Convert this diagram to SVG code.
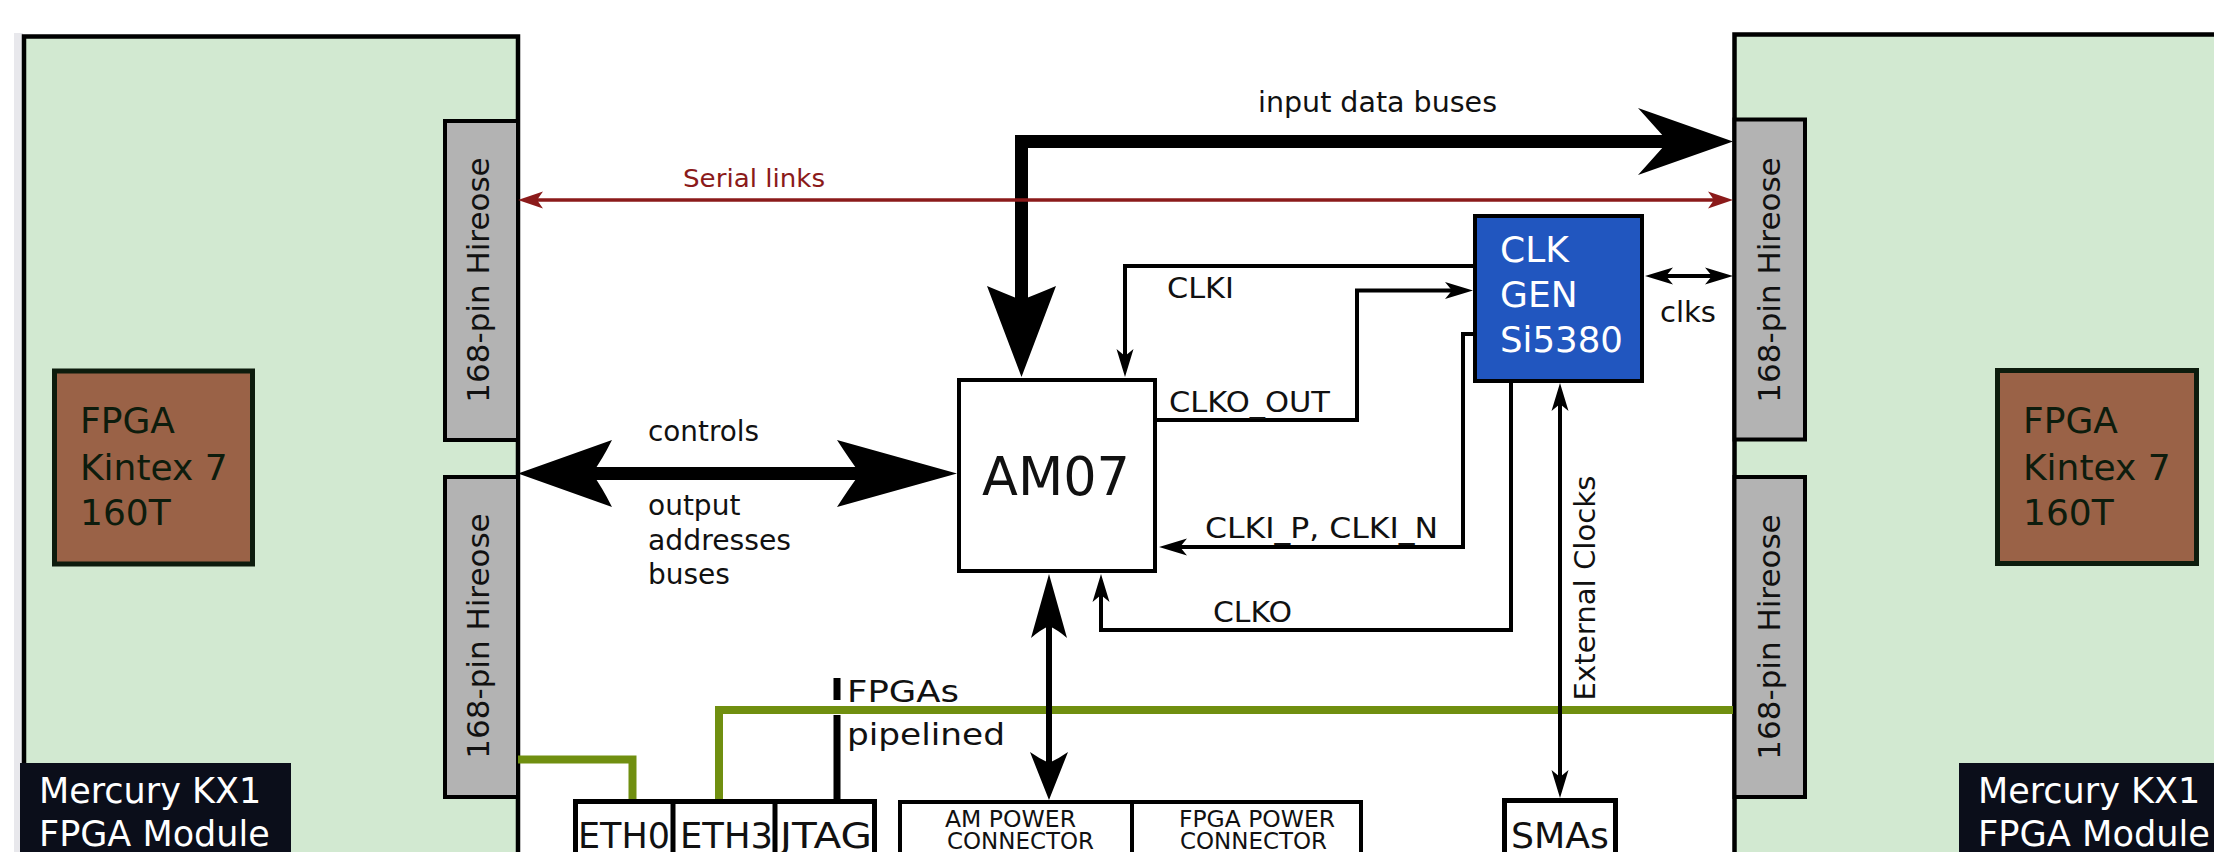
<svg xmlns="http://www.w3.org/2000/svg" width="2214" height="852" viewBox="0 0 2214 852">
<style>
  text { font-family: "DejaVu Sans", "Liberation Sans", sans-serif; fill: #111; }
  .module { fill: #d2e9d1; stroke: #000; stroke-width: 4.5; }
  .conn { fill: #b3b3b3; stroke: #000; stroke-width: 4; }
  .fpga { fill: #9a6247; stroke: #0d1c0d; stroke-width: 5; }
  .fpgat { font-size: 36px; fill: #0d1c0d; }
  .merc { fill: #0b0e1a; }
  .merct { font-size: 35px; fill: #fff; }
  .hir { font-size: 31px; fill: #111; }
  .box { fill: #fff; stroke: #000; stroke-width: 4; }
  .box5 { fill: #fff; stroke: #000; stroke-width: 5; }
  .lbl { font-size: 28px; }
  .pw { font-size: 23px; }
  .big { font-size: 36px; }
  .thin { fill: none; stroke: #000; stroke-width: 4; }
  .green { fill: none; stroke: #708f10; stroke-width: 8; }
  .head { fill: #000; }
</style>
<defs>
  <marker id="arr" markerUnits="userSpaceOnUse" markerWidth="28" markerHeight="18" viewBox="0 0 28 18" refX="18" refY="9" orient="auto-start-reverse">
    <path d="M0,0.5 L28,9 L0,17.5 L7,9 Z" fill="#000"/>
  </marker>
  <marker id="arrR" markerUnits="userSpaceOnUse" markerWidth="25" markerHeight="18" viewBox="0 0 25 18" refX="15" refY="9" orient="auto-start-reverse">
    <path d="M0,0.5 L25,9 L0,17.5 L6,9 Z" fill="#8b1a1a"/>
  </marker>
</defs>

<rect x="14" y="33" width="9" height="830" fill="#e8e8ec"/>

<g id="module-left">
  <rect class="module" x="24" y="36.5" width="494" height="900"/>
  <rect class="fpga" x="54.5" y="371" width="198" height="193"/>
  <text class="fpgat" x="80" y="433">FPGA</text>
  <text class="fpgat" x="80" y="480">Kintex 7</text>
  <text class="fpgat" x="80" y="525">160T</text>
  <rect class="merc" x="20" y="763" width="271" height="100"/>
  <text class="merct" x="39" y="803">Mercury KX1</text>
  <text class="merct" x="39" y="846">FPGA Module</text>
</g>
<g id="hirose-l1">
  <rect class="conn" x="445" y="121" width="73" height="319"/>
  <text class="hir" text-anchor="middle" transform="translate(489,280) rotate(-90)">168-pin Hireose</text>
</g>
<g id="hirose-l2">
  <rect class="conn" x="445" y="477" width="73" height="320"/>
  <text class="hir" text-anchor="middle" transform="translate(489,636) rotate(-90)">168-pin Hireose</text>
</g>

<g id="module-right">
  <rect class="module" x="1734.5" y="34.5" width="600" height="900"/>
  <rect class="fpga" x="1997.5" y="370.5" width="199" height="193"/>
  <text class="fpgat" x="2023" y="433">FPGA</text>
  <text class="fpgat" x="2023" y="480">Kintex 7</text>
  <text class="fpgat" x="2023" y="525">160T</text>
  <rect class="merc" x="1959" y="763" width="300" height="100"/>
  <text class="merct" x="1978" y="803">Mercury KX1</text>
  <text class="merct" x="1978" y="846" textLength="232" lengthAdjust="spacingAndGlyphs">FPGA Module</text>
</g>
<g id="hirose-r1">
  <rect class="conn" x="1734.5" y="119.5" width="70.5" height="320"/>
  <text class="hir" text-anchor="middle" transform="translate(1780,280) rotate(-90)">168-pin Hireose</text>
</g>
<g id="hirose-r2">
  <rect class="conn" x="1734.5" y="477" width="70.5" height="320"/>
  <text class="hir" text-anchor="middle" transform="translate(1780,637) rotate(-90)">168-pin Hireose</text>
</g>

<g id="am07">
  <rect class="box" x="959" y="380" width="196" height="191"/>
  <text x="982" y="495" font-size="53" textLength="148" lengthAdjust="spacingAndGlyphs">AM07</text>
</g>

<g id="clkgen">
  <rect x="1475" y="216" width="167" height="165" fill="#2156bf" stroke="#000" stroke-width="4"/>
  <text class="big" x="1500" y="262" style="fill:#fff">CLK</text>
  <text class="big" x="1500" y="307" style="fill:#fff">GEN</text>
  <text class="big" x="1500" y="352" style="fill:#fff" textLength="123" lengthAdjust="spacingAndGlyphs">Si5380</text>
</g>

<g id="eth">
  <rect class="box5" x="575.5" y="801.5" width="299" height="100"/>
  <line x1="673" y1="801" x2="673" y2="860" stroke="#000" stroke-width="5"/>
  <line x1="775" y1="801" x2="775" y2="860" stroke="#000" stroke-width="5"/>
  <text class="big" x="578" y="848" font-size="34" textLength="92" lengthAdjust="spacingAndGlyphs">ETH0</text>
  <text class="big" x="680" y="848" font-size="34" textLength="93" lengthAdjust="spacingAndGlyphs">ETH3</text>
  <text class="big" x="780" y="848" font-size="34" textLength="92" lengthAdjust="spacingAndGlyphs">JTAG</text>
</g>

<g id="power">
  <rect class="box" x="900" y="802" width="461" height="100"/>
  <line x1="1132" y1="802" x2="1132" y2="860" stroke="#000" stroke-width="4"/>
  <text class="pw" x="945" y="827" textLength="131" lengthAdjust="spacingAndGlyphs">AM POWER</text>
  <text class="pw" x="947" y="849" textLength="147" lengthAdjust="spacingAndGlyphs">CONNECTOR</text>
  <text class="pw" x="1179" y="827" textLength="156" lengthAdjust="spacingAndGlyphs">FPGA POWER</text>
  <text class="pw" x="1180" y="849" textLength="147" lengthAdjust="spacingAndGlyphs">CONNECTOR</text>
</g>

<g id="smas">
  <rect class="box5" x="1504.5" y="800.5" width="111" height="100"/>
  <text class="big" x="1511" y="848" font-size="34" textLength="98" lengthAdjust="spacingAndGlyphs">SMAs</text>
</g>

<g id="connectors">
  <path class="green" d="M518,759.5 H632.5 V799"/>
  <path class="green" d="M1733,710 H719 V799"/>
  <rect x="833.5" y="678" width="7" height="22" fill="#000"/>
  <rect x="833.5" y="715" width="7" height="84" fill="#000"/>

  <path d="M1021.5,300 V141.5 H1670" fill="none" stroke="#000" stroke-width="13" stroke-linejoin="miter"/>
  <path class="head" d="M1021.5,377 L987,286 Q1006,294 1021.5,300 Q1037,294 1056,286 Z"/>
  <path class="head" d="M1733,141.5 L1638,108 Q1656,128 1668,141.5 Q1656,155 1638,175 Z"/>

  <path d="M590,473.5 H862" fill="none" stroke="#000" stroke-width="13"/>
  <path class="head" d="M957,473.5 L837,440 Q850,460 860,473.5 Q850,487 837,507 Z"/>
  <path class="head" d="M518,473.5 L612,440 Q602,460 592,473.5 Q602,487 612,507 Z"/>

  <line x1="1049" y1="620" x2="1049" y2="765" stroke="#000" stroke-width="6"/>
  <path class="head" d="M1049,574 L1031,638 Q1040,630 1049,626 Q1058,630 1067,638 Z"/>
  <path class="head" d="M1049,800 L1030,752 Q1040,759 1049,763 Q1058,759 1068,752 Z"/>

  <path class="thin" d="M1473,266 H1125 V367" marker-end="url(#arr)"/>
  <path class="thin" d="M1157,420 H1357 V290.5 H1463" marker-end="url(#arr)"/>
  <path class="thin" d="M1473,334 H1463 V547 H1169" marker-end="url(#arr)"/>
  <path class="thin" d="M1511,383 V630 H1101 V584" marker-end="url(#arr)"/>
  <path class="thin" d="M1560,393 V788" marker-start="url(#arr)" marker-end="url(#arr)"/>
  <path class="thin" d="M1655,276 H1723" marker-start="url(#arr)" marker-end="url(#arr)"/>

  <path d="M528,200 H1723" fill="none" stroke="#8b1a1a" stroke-width="3.5" marker-start="url(#arrR)" marker-end="url(#arrR)"/>

  <text x="683" y="187" font-size="25" style="fill:#8b1a1a" textLength="142" lengthAdjust="spacingAndGlyphs">Serial links</text>
  <text class="lbl" x="1258" y="112" textLength="239" lengthAdjust="spacingAndGlyphs">input data buses</text>
  <text class="lbl" x="648" y="441" textLength="111" lengthAdjust="spacingAndGlyphs">controls</text>
  <text class="lbl" x="648" y="515">output</text>
  <text class="lbl" x="648" y="550" textLength="143" lengthAdjust="spacingAndGlyphs">addresses</text>
  <text class="lbl" x="648" y="584">buses</text>
  <text class="lbl" x="1167" y="298" textLength="67" lengthAdjust="spacingAndGlyphs">CLKI</text>
  <text class="lbl" x="1169" y="412" textLength="161" lengthAdjust="spacingAndGlyphs">CLKO_OUT</text>
  <text class="lbl" x="1205" y="538" textLength="233" lengthAdjust="spacingAndGlyphs">CLKI_P, CLKI_N</text>
  <text class="lbl" x="1213" y="622" textLength="79" lengthAdjust="spacingAndGlyphs">CLKO</text>
  <text class="lbl" x="1660" y="322" textLength="56" lengthAdjust="spacingAndGlyphs">clks</text>
  <text x="0" y="0" font-size="29" text-anchor="middle" transform="translate(1595,588) rotate(-90)" textLength="225" lengthAdjust="spacingAndGlyphs">External Clocks</text>
  <text x="847" y="702" font-size="30" textLength="112" lengthAdjust="spacingAndGlyphs">FPGAs</text>
  <text x="847" y="745" font-size="30" textLength="158" lengthAdjust="spacingAndGlyphs">pipelined</text>
</g>
</svg>
